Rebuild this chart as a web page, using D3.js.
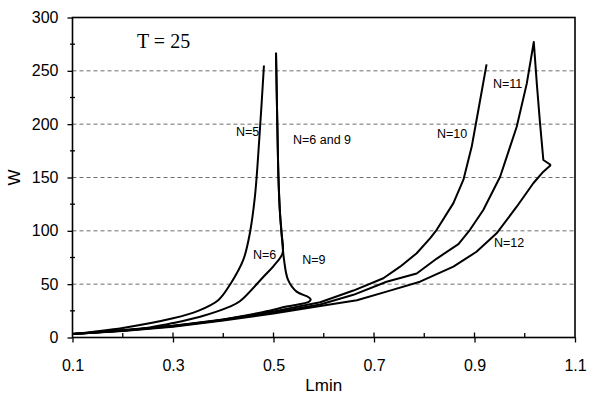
<!DOCTYPE html>
<html>
<head>
<meta charset="utf-8">
<script src="https://cdn.jsdelivr.net/npm/d3@7"></script>
<style>
  html, body { margin: 0; padding: 0; background: #fff; }
  svg { display: block; }
</style>
</head>
<body>
<svg id="chart" width="597" height="394"></svg>
<script>
// ---- data ----
const n5L = [0.1, 0.2, 0.3, 0.35, 0.39, 0.414, 0.44, 0.453, 0.463, 0.472, 0.481];
const n5W = [3.3, 9, 18, 25, 35, 50, 73, 98, 132, 188, 255];

const n6L = [0.1, 0.2, 0.254, 0.3, 0.354, 0.413, 0.433, 0.48, 0.5, 0.518, 0.516, 0.513, 0.51, 0.508, 0.505];
const n6W = [3.3, 7, 9.5, 13.5, 19.5, 29, 34, 57, 67, 79, 98, 116, 148, 190, 267];

const n9L = [0.1, 0.2, 0.3, 0.4, 0.48, 0.526, 0.571, 0.574, 0.569, 0.546, 0.529, 0.521, 0.516, 0.513, 0.51, 0.508, 0.505];
const n9W = [3.3, 6.5, 11, 17, 24, 29, 33.6, 35.8, 38, 43, 54, 72.7, 98, 116, 148, 190, 267];

const n10L = [0.1, 0.2, 0.3, 0.4, 0.5, 0.593, 0.659, 0.7186, 0.752, 0.785, 0.8115, 0.8248, 0.858, 0.878, 0.8945, 0.9076, 0.924];
const n10W = [3.3, 6.5, 11, 17, 24.5, 33, 44, 55.5, 66.4, 79, 93, 101, 126, 148, 179, 213, 256];

const n11L = [0.1, 0.2, 0.3, 0.4, 0.5, 0.593, 0.659, 0.725, 0.785, 0.825, 0.868, 0.891, 0.9175, 0.951, 0.984, 1.004, 1.018, 1.024, 1.0304, 1.037, 1.052];
const n11W = [3.3, 6.3, 10.5, 16.5, 23.5, 31, 40, 52.3, 60, 74, 87.6, 101, 119.5, 150.7, 197.6, 238, 277, 238, 201, 166.4, 161.7];

const n12L = [0.1, 0.2, 0.3, 0.4, 0.5, 0.593, 0.666, 0.725, 0.7915, 0.858, 0.904, 0.944, 0.984, 1.017, 1.037, 1.052];
const n12W = [3.3, 6, 10, 16, 22.5, 29.5, 35, 43, 52.3, 66.4, 80.4, 97.7, 122.6, 144.6, 155.5, 161.7];

const xTickLabels = [0.1, 0.3, 0.5, 0.7, 0.9, 1.1];
const xMinorTicks = [0.2, 0.4, 0.6, 0.8, 1.0];
const yTickLabels = [0, 50, 100, 150, 200, 250, 300];
const yMinorTicks = [25, 75, 125, 175, 225, 275];
const gridValues = [50, 100, 150, 200, 250];

const labelText = ["N=5", "N=6 and 9", "N=6", "N=9", "N=10", "N=11", "N=12"];
const labelL = [0.4254, 0.5388, 0.4592, 0.5571, 0.8254, 0.9368, 0.9388];
const labelW = [192.7, 185.2, 77.3, 72.7, 190.8, 237.6, 88.6];

const titleText = "T = 25";
const titleL = 0.2284, titleW = 271.4;
const xTitle = "Lmin", yTitle = "W";

// ---- drawing ----
const svg = d3.select("#chart");
const x = d3.scaleLinear().domain([0.1, 1.1]).range([72.5, 575]);
const y = d3.scaleLinear().domain([0, 300]).range([337.5, 17.5]);

// gridlines
svg.append("g").selectAll("line").data(gridValues).join("line")
  .attr("x1", x(0.1)).attr("x2", x(1.1))
  .attr("y1", d => y(d)).attr("y2", d => y(d))
  .attr("stroke", "#6e6e6e").attr("stroke-width", 1)
  .attr("stroke-dasharray", "4,3");

// axes
const yAxis = d3.axisLeft(y).tickValues(yTickLabels).tickSize(5).tickSizeOuter(0).tickPadding(9);
const gy = svg.append("g").attr("transform", `translate(${x(0.1)},0)`).call(yAxis);
const xAxis = d3.axisBottom(x).tickValues(xTickLabels).tickSize(5).tickSizeOuter(0).tickPadding(17)
  .tickFormat(d3.format(".1f"));
const gx = svg.append("g").attr("transform", `translate(0,${y(0)})`).call(xAxis);
[gx, gy].forEach(g => {
  g.select(".domain").remove();
  g.selectAll(".tick line").attr("stroke", "#000").attr("stroke-width", 1.3);
  g.selectAll(".tick text").attr("fill", "#000")
    .style("font-family", "'Liberation Sans', Arial, sans-serif").style("font-size", "16px");
});

// inner parts of major x ticks (cross the axis)
svg.append("g").selectAll("line").data(xTickLabels.slice(1, -1)).join("line")
  .attr("x1", d => x(d)).attr("x2", d => x(d))
  .attr("y1", y(0)).attr("y2", y(0) - 5)
  .attr("stroke", "#000").attr("stroke-width", 1.3);
// minor x ticks (inside)
svg.append("g").selectAll("line").data(xMinorTicks).join("line")
  .attr("x1", d => x(d)).attr("x2", d => x(d))
  .attr("y1", y(0)).attr("y2", y(0) - 4.5)
  .attr("stroke", "#000").attr("stroke-width", 1.3);
// minor y ticks (crossing)
svg.append("g").selectAll("line").data(yMinorTicks).join("line")
  .attr("x1", x(0.1) - 2.5).attr("x2", x(0.1) + 2.5)
  .attr("y1", d => y(d)).attr("y2", d => y(d))
  .attr("stroke", "#000").attr("stroke-width", 1.3);

// frame
svg.append("rect")
  .attr("x", x(0.1)).attr("y", y(300))
  .attr("width", x(1.1) - x(0.1)).attr("height", y(0) - y(300))
  .attr("fill", "none").attr("stroke", "#000").attr("stroke-width", 1.6);

// curves: smooth ones (N=5, 6, 9) and polyline ones (N=10, 11, 12)
const smoothSeries = [[n5L, n5W], [n6L, n6W], [n9L, n9W]];
const polySeries = [[n10L, n10W], [n11L, n11W], [n12L, n12W]];
const smooth = d3.line().x(d => x(d[0])).y(d => y(d[1])).curve(d3.curveCatmullRom.alpha(0.5));
const poly = d3.line().x(d => x(d[0])).y(d => y(d[1])).curve(d3.curveLinear);
const toPts = s => s[0].map((l, i) => [l, s[1][i]]);
const gCurves = svg.append("g");
gCurves.selectAll("path.s").data(smoothSeries).join("path").attr("class", "s")
  .attr("d", s => smooth(toPts(s)));
gCurves.selectAll("path.p").data(polySeries).join("path").attr("class", "p")
  .attr("d", s => poly(toPts(s)));
gCurves.selectAll("path")
  .attr("fill", "none").attr("stroke", "#000").attr("stroke-width", 2)
  .attr("stroke-linejoin", "round").attr("stroke-linecap", "butt");

// curve labels
svg.append("g").selectAll("text").data(labelText).join("text")
  .attr("x", (d, i) => x(labelL[i])).attr("y", (d, i) => y(labelW[i]))
  .attr("dominant-baseline", "central")
  .style("font-family", "'Liberation Sans', Arial, sans-serif").style("font-size", "12.5px")
  .attr("fill", "#000")
  .text(d => d);

// T = 25
svg.append("text").attr("x", x(titleL)).attr("y", y(titleW))
  .style("font-family", "'Liberation Serif', 'Times New Roman', serif").style("font-size", "20px")
  .attr("fill", "#000").text(titleText);

// axis titles
svg.append("text").attr("x", (x(0.1) + x(1.1)) / 2).attr("y", 391)
  .attr("text-anchor", "middle")
  .style("font-family", "'Liberation Sans', Arial, sans-serif").style("font-size", "17px")
  .attr("fill", "#000").text(xTitle);
svg.append("text").attr("transform", `translate(20,${y(150)}) rotate(-90)`)
  .attr("text-anchor", "middle")
  .style("font-family", "'Liberation Sans', Arial, sans-serif").style("font-size", "17px")
  .attr("fill", "#000").text(yTitle);
</script>
</body>
</html>
